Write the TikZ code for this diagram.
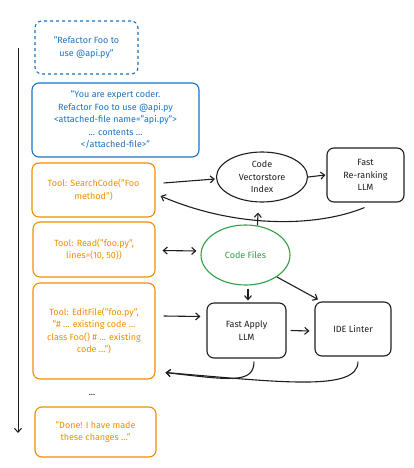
\documentclass[tikz,border=0pt]{standalone}
\usepackage{fontspec}
\setmainfont{Fira Sans}
\usetikzlibrary{shapes.geometric,arrows.meta}
\definecolor{xblue}{HTML}{1971C2}
\definecolor{xorange}{HTML}{F08C00}
\definecolor{xgreen}{HTML}{2F9E44}
\definecolor{xblack}{HTML}{1E1E1E}
\tikzset{
    >={Straight Barb[length=4pt,width=7pt]},
    msg/.style={draw=xblue, text=xblue, rounded corners=7pt, line width=1.1pt, align=center, inner sep=0pt},
    tool/.style={draw=xorange, text=xorange, rounded corners=7pt, line width=1.1pt, align=center, inner sep=0pt},
    proc/.style={draw=xblack, text=xblack, rounded corners=7pt, line width=1.1pt, align=center, inner sep=0pt},
    store/.style={draw=xblack, text=xblack, ellipse, line width=1.1pt, align=center, inner sep=0pt},
}
\begin{document}
\begin{tikzpicture}[x=1pt, y=-1pt, font=\fontsize{9}{12.5}\selectfont]
        \useasboundingbox (0,0) rectangle (413,468);
        \node[msg, dashed, minimum width=103pt, minimum height=53pt] (prompt) at (86.5,47.5) {"Refactor Foo to\\use @api.py"};
        \node[msg, minimum width=167pt, minimum height=74pt] (sys) at (115.5,120) {"You are expert coder.\\Refactor Foo to use @api.py\\<attached-file name="api.py">\\... contents ...\\</attached-file>"};
        \node[tool, minimum width=123pt, minimum height=54pt] (search) at (93.5,190) {Tool: SearchCode("Foo\\method")};
        \node[tool, minimum width=122pt, minimum height=55pt] (read) at (94,249.5) {Tool: Read("foo.py",\\lines=(10, 50))};
        \node[tool, minimum width=122pt, minimum height=96pt] (edit) at (94,331) {Tool: EditFile("foo.py",\\"\# ... existing code ...\\class Foo() \# ... existing\\code ...")};
        \node[text=xblack] (dots) at (92,395) {...};
        \node[tool, minimum width=121pt, minimum height=50pt] (done) at (95.5,432) {"Done! I have made\\these changes ..."};

        \node[store, minimum width=91pt, minimum height=50pt] (vector) at (262,177) {Code\\Vectorstore\\Index};
        \node[proc, minimum width=77pt, minimum height=54pt] (rerank) at (365.5,175) {Fast\\Re-ranking\\LLM};
        \node[store, draw=xgreen, text=xgreen, minimum width=89pt, minimum height=60pt] (files) at (245.5,255) {Code Files};
        \node[proc, minimum width=79pt, minimum height=55pt] (apply) at (246.5,330.5) {Fast Apply\\LLM};
        \node[proc, minimum width=76pt, minimum height=54pt] (linter) at (353,329) {IDE Linter};

        \coordinate (start) at (18,48);
        \coordinate (end) at (18,433);
        \path[draw=xblack,line width=1pt,->] (start) -- (end);

        \path[draw=xblack,line width=1.1pt,->] ([xshift=8pt,yshift=7pt]search.east) -- ([xshift=-1pt,yshift=-2pt]vector.west);
        \path[draw=xblack,line width=1.1pt,->] (vector.east) -- ([xshift=-1pt]rerank.west);
        \path[draw=xblack,line width=1.1pt,->] ([xshift=-1pt,yshift=-5pt]rerank.south) .. controls (320,226) and (240,230) .. ([xshift=5pt,yshift=-6pt]search.east);
        \path[draw=xblack,line width=1.1pt,->] ([xshift=12pt,yshift=-1pt]files.north) -- ([xshift=-4pt,yshift=-10pt]vector.south);
        \path[draw=xblack,line width=1.1pt,<->] ([xshift=7pt,yshift=-1pt]read.east) -- ([xshift=-4pt,yshift=4pt]files.west);
        \path[draw=xblack,line width=1.1pt,->] ([xshift=8pt,yshift=15pt]edit.east) -- ([xshift=-6pt,yshift=14pt]apply.west);
        \path[draw=xblack,line width=1.1pt,->] ([xshift=2.5pt,yshift=-3pt]files.south) -- ([xshift=1.5pt,yshift=2pt]apply.north);
        \path[draw=xblack,line width=1.1pt,->] (files.-35) -- ([xshift=-35pt,yshift=2pt]linter.north);
        \path[draw=xblack,line width=1.1pt,->] ([xshift=4pt]apply.east) -- ([xshift=-5pt,yshift=-2pt]linter.west);
        \path[draw=xblack,line width=1.1pt,->] ([xshift=7.5pt,yshift=-3pt]apply.south) .. controls (254,384) and (230,380) .. ([xshift=10pt,yshift=7pt]edit.south east);
        \path[draw=xblack,line width=1.1pt,->] ([xshift=5pt,yshift=-5pt]linter.south) .. controls (358,392) and (280,382) .. ([xshift=10pt,yshift=7pt]edit.south east);
    \end{tikzpicture}
\end{document}
